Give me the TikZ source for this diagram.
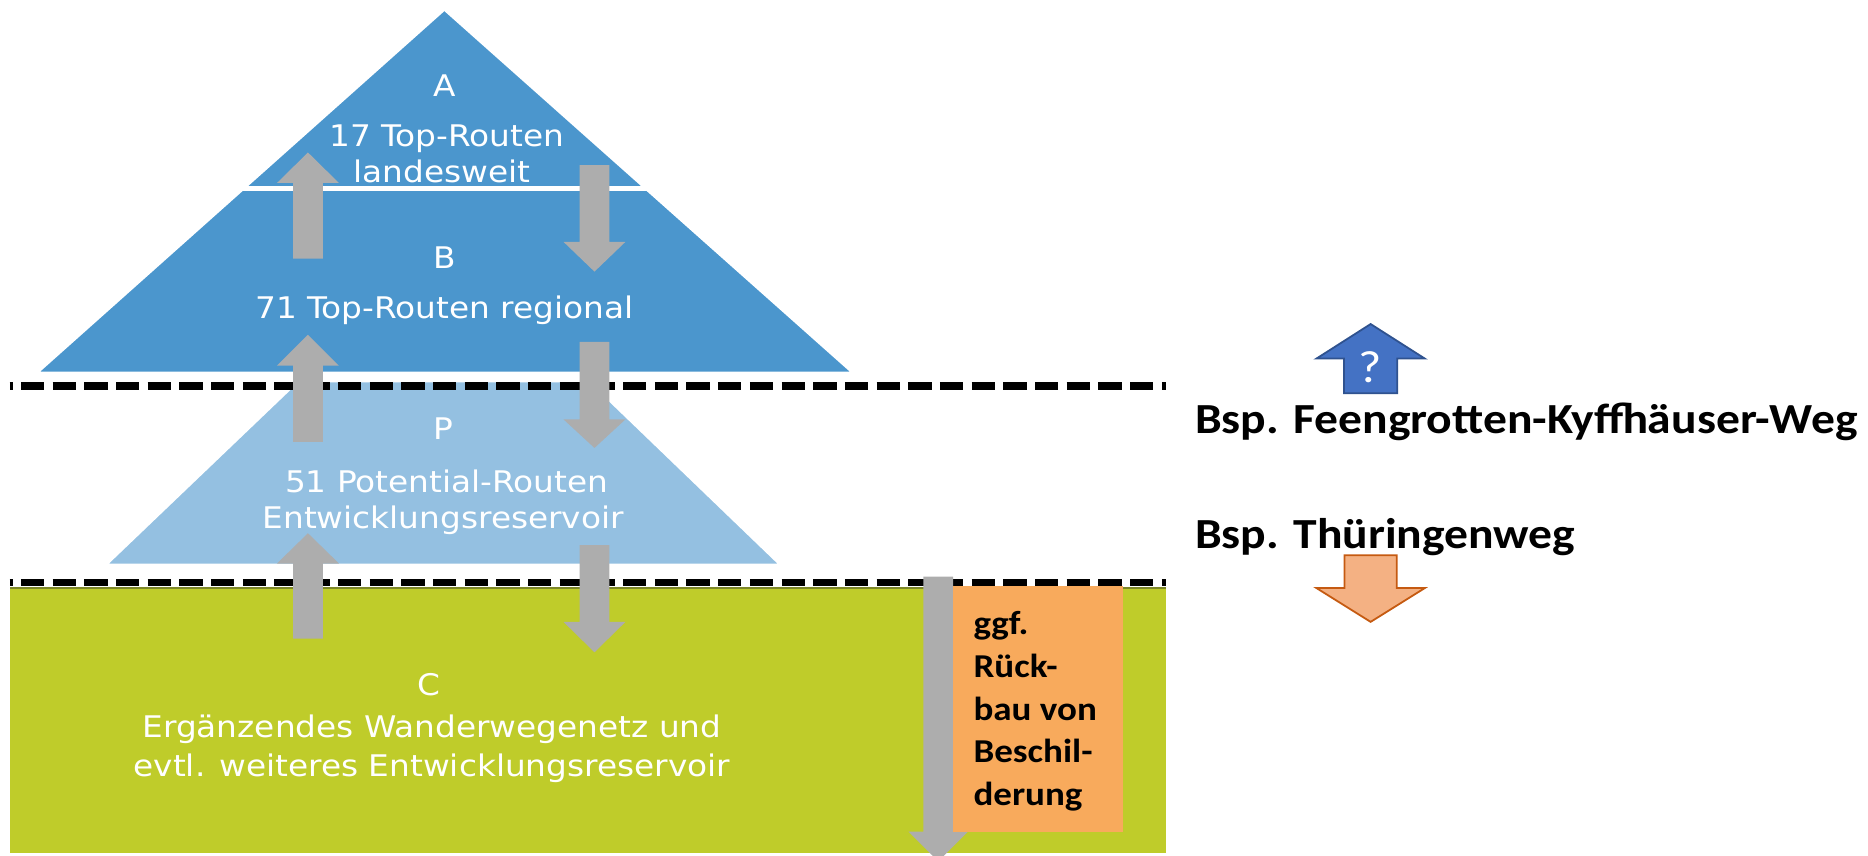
\documentclass[tikz,border=0pt]{standalone}
\usepackage{fontspec}
\setmainfont{DejaVu Sans}
\newfontfamily\pyrfont[FakeStretch=1.1]{DejaVu Sans}
\newfontfamily\calib[FakeStretch=1.11]{Carlito}
\definecolor{pyrdark}{RGB}{75,150,205}
\definecolor{pyrlight}{RGB}{148,192,225}
\definecolor{arrowgray}{RGB}{173,173,173}
\definecolor{basegreen}{RGB}{191,204,42}
\definecolor{greenedge}{RGB}{125,135,40}
\definecolor{boxorange}{RGB}{248,170,92}
\definecolor{upblue}{RGB}{68,114,196}
\definecolor{upbluedraw}{RGB}{47,82,143}
\definecolor{downorange}{RGB}{244,177,131}
\definecolor{downorangedraw}{RGB}{197,90,17}
% block arrow: style, cx, tip y, head-base y, tail y, half shaft, half head
\newcommand\blockarrow[7]{%
  \path[#1] (#2,#3) -- ({#2+#7},#4) -- ({#2+#6},#4) -- ({#2+#6},#5)
    -- ({#2-#6},#5) -- ({#2-#6},#4) -- ({#2-#7},#4) -- cycle;}
\begin{document}
\begin{tikzpicture}[x=1pt,y=-1pt,
  pyrtext/.style={font=\pyrfont\fontsize{25}{29}\selectfont, text=white, anchor=base, inner sep=0pt},
  sidetext/.style={font=\calib\bfseries\fontsize{36}{42}\selectfont, text=black, anchor=base west, inner sep=0pt},
  boxtext/.style={font=\calib\bfseries\fontsize{28}{34}\selectfont, text=black, anchor=base west, inner sep=0pt},
  dashline/.style={draw=black, line width=6pt, dash pattern=on 19.6pt off 7pt, dash phase=17pt},
  grayarr/.style={fill=arrowgray},
  bluearr/.style={fill=upblue, draw=upbluedraw, line width=1.5pt, line join=miter},
  orangearr/.style={fill=downorange, draw=downorangedraw, line width=1.5pt, line join=miter},
  orangebox/.style={fill=boxorange, draw=none, inner sep=0pt, minimum width=142.6pt, minimum height=206pt, anchor=north west}
]
\useasboundingbox (0,0) rectangle (1568,718);
\clip (0,0) rectangle (1568,718);
\fill[white] (0,0) rectangle (1568,718);

% top triangle (A + B)
\fill[pyrdark] (373,8) -- (716,313) -- (31,313) -- cycle;
\begin{scope}
  \clip (373,8) -- (716,313) -- (31,313) -- cycle;
  \draw[white, line width=4pt] (0,158.5) -- (800,158.5);
\end{scope}
\draw[white, line width=2pt, line join=round] (373,8) -- (716,313) -- (31,313) -- cycle;

% P trapezoid
\fill[pyrlight] (249,321) -- (496,321) -- (655,474) -- (89,474) -- cycle;
\draw[white, line width=2pt, line join=round] (249,321) -- (89,474) -- (655,474) -- (496,321);

% C band
\fill[basegreen] (8.7,493) rectangle (979,716);
\draw[greenedge, line width=1.5pt] (8.7,493.5) -- (979,493.5);

% dashed separators
\draw[dashline] (8,324) -- (979,324);
\draw[dashline] (8,488.7) -- (979,488.7);

% gray arrows
\blockarrow{grayarr}{258.5}{128}{153.6}{217}{12.5}{26}
\blockarrow{grayarr}{499}{228}{203}{138.5}{12.5}{26}
\blockarrow{grayarr}{258.5}{281}{307}{371}{12.5}{26}
\blockarrow{grayarr}{499}{376}{352}{287}{12.5}{26}
\blockarrow{grayarr}{258.5}{447.6}{473}{536}{12.5}{26}
\blockarrow{grayarr}{499}{547.5}{522}{457.5}{12.5}{26}
\blockarrow{grayarr}{787.5}{723}{698}{484}{12.5}{25}

% orange box
\node[orangebox] (obox) at (800,492) {};
\node[boxtext] (ob1) at (817,533) {ggf.};
\node[boxtext] (ob2) at (817,568.8) {Rück-};
\node[boxtext] (ob3) at (817,604.6) {bau von};
\node[boxtext] (ob4) at (817,640.4) {Beschil-};
\node[boxtext] (ob5) at (817,676.2) {derung};

% pyramid texts
\node[pyrtext] (tA)  at (373,81) {A};
\node[pyrtext] (tA1) at (375,123) {17 Top-Routen};
\node[pyrtext] (tA2) at (371,153) {landesweit};
\node[pyrtext] (tB)  at (373,225) {B};
\node[pyrtext] (tB1) at (373,267) {71 Top-Routen regional};
\node[pyrtext] (tP)  at (372,369) {P};
\node[pyrtext] (tP1) at (375,413) {51 Potential-Routen};
\node[pyrtext] (tP2) at (372,444) {Entwicklungsreservoir};
\node[pyrtext] (tC)  at (360,583.6) {C};
\node[pyrtext] (tC1) at (362.5,618.7) {Ergänzendes Wanderwegenetz und};
\node[pyrtext] (tC2) at (362.5,652) {evtl. weiteres Entwicklungsreservoir};

% right side
\blockarrow{bluearr}{1150.5}{272}{301}{330}{22.3}{45.5}
\node[font=\calib\fontsize{38}{44}\selectfont, text=white, anchor=base, inner sep=0pt] (qm) at (1150.5,321) {?};
\node[sidetext] (bsp1) at (1003,364) {Bsp. Feengrotten-Kyffhäuser-Weg};
\node[sidetext] (bsp2) at (1003,460) {Bsp. Thüringenweg};
\blockarrow{orangearr}{1150.5}{522}{493.6}{466}{22}{45.5}
\end{tikzpicture}
\end{document}
